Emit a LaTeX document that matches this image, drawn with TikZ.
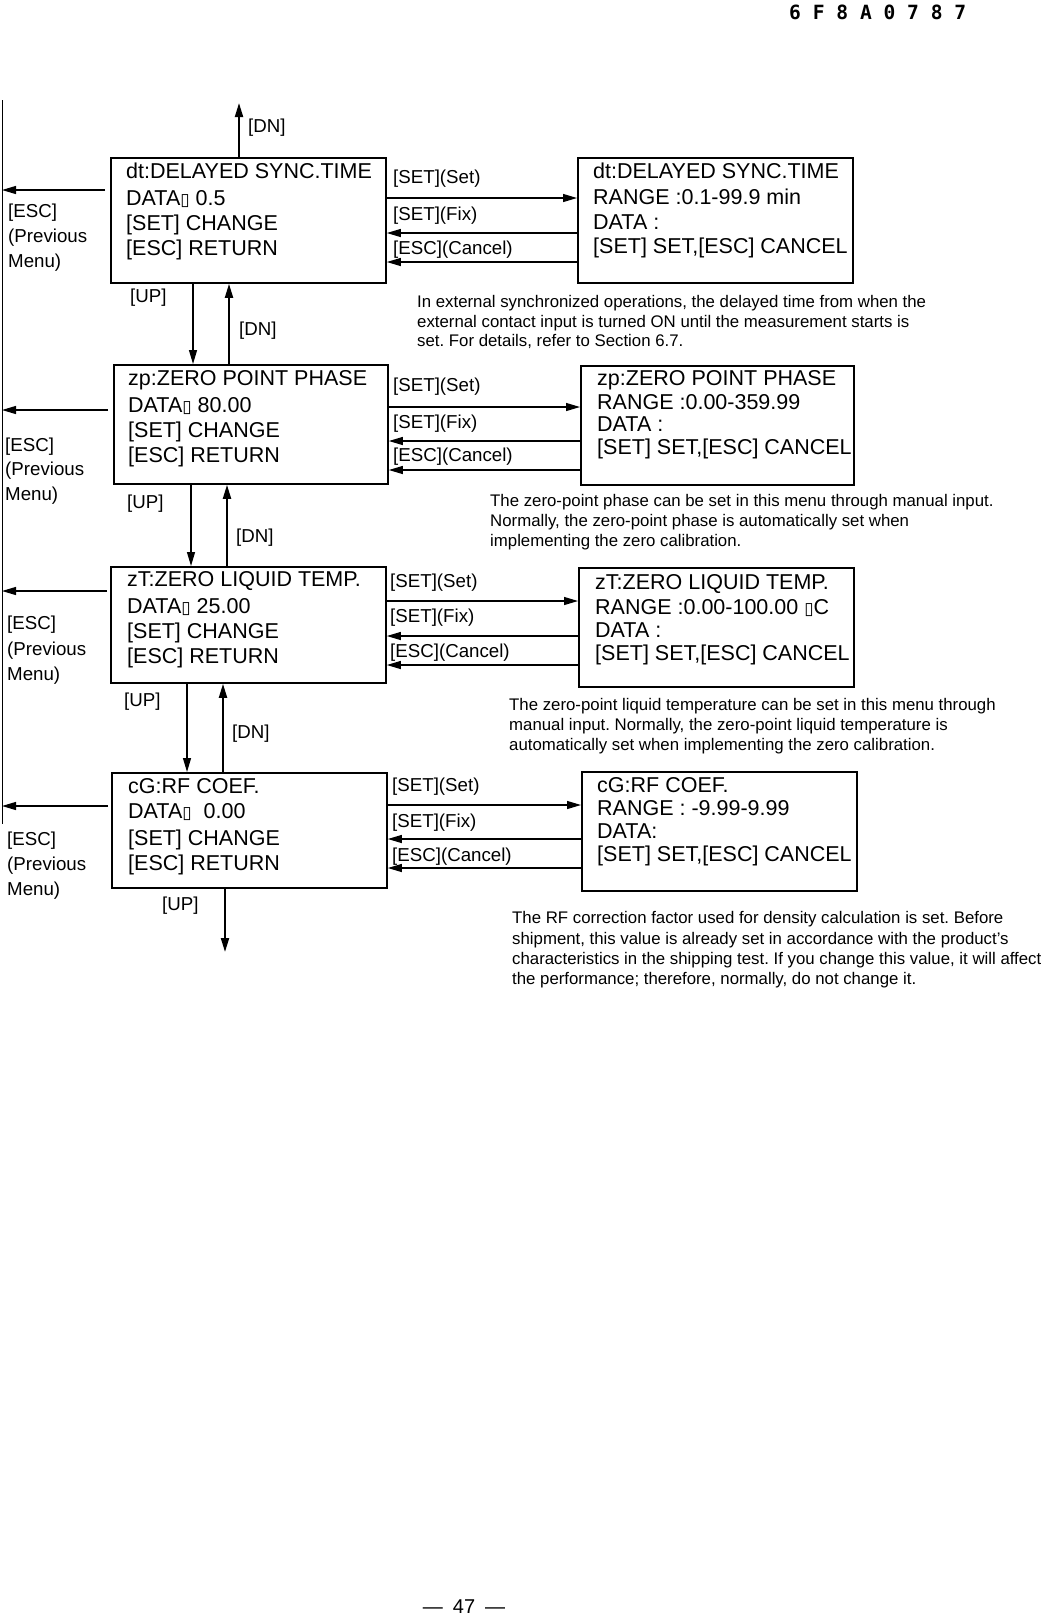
\documentclass[tikz,border=0pt]{standalone}
\usepackage{fontspec}
\setmainfont{Liberation Sans}
\newfontfamily\djv{DejaVu Sans}
\newfontfamily\hdrmono{DejaVu Sans Mono}
\usetikzlibrary{arrows.meta}
\newcommand\tofu{{\djv\fontsize{17}{17}\selectfont ▯}}
\newcommand\txtlines[4]{%
  \foreach \yy/\ttext [count=\i] in {#4}{\node[#2, anchor=base west] (#1\i) at (#3,\yy) {\ttext};}}
\begin{document}
\frenchspacing
\begin{tikzpicture}[x=1pt,y=-1pt,
  box/.style={draw, line width=1.8pt, anchor=north west, inner sep=0pt},
  boxt/.style={font=\fontsize{21.5}{25}\selectfont, inner sep=0pt},
  lab/.style={font=\fontsize{18.7}{22}\selectfont, inner sep=0pt},
  note/.style={font=\fontsize{16.8}{20}\selectfont\frenchspacing, inner sep=0pt},
  arr/.style={-{Triangle[length=14pt,width=8pt]}, line width=1.2pt},
  arrdn/.style={arr, line width=2pt}]
\useasboundingbox (0,0) rectangle (1041,1615);

% header and footer
\node[font=\hdrmono\bfseries\fontsize{19.6}{22}\selectfont, anchor=base west, inner sep=0pt] (hdr) at (789,19) {6 F 8 A 0 7 8 7};
\node[font=\fontsize{20}{22}\selectfont, anchor=base, inner sep=0pt] (ftr) at (464,1613) {—\enspace 47\enspace —};

% boxes
\node[box, minimum width=275pt, minimum height=125pt] (b1l) at (110,157) {};
\node[box, minimum width=275pt, minimum height=125pt] (b1r) at (577,157) {};
\node[box, minimum width=274pt, minimum height=119pt] (b2l) at (113,364) {};
\node[box, minimum width=273pt, minimum height=119pt] (b2r) at (580,365) {};
\node[box, minimum width=275pt, minimum height=116pt] (b3l) at (110,566) {};
\node[box, minimum width=275pt, minimum height=119pt] (b3r) at (578,567) {};
\node[box, minimum width=275pt, minimum height=115pt] (b4l) at (111,772) {};
\node[box, minimum width=275pt, minimum height=119pt] (b4r) at (581,771) {};

% box texts
\txtlines{t1l}{boxt}{126}{178/{dt:DELAYED SYNC.TIME}, 205/{DATA\tofu\ 0.5}, 230/{[SET] CHANGE}, 255/{[ESC] RETURN}}
\txtlines{t1r}{boxt}{593}{178/{dt:DELAYED SYNC.TIME}, 204/{RANGE :0.1-99.9 min}, 229/{DATA :}, 253/{[SET] SET,[ESC] CANCEL}}
\txtlines{t2l}{boxt}{128}{385/{zp:ZERO POINT PHASE}, 412/{DATA\tofu\ 80.00}, 437/{[SET] CHANGE}, 462/{[ESC] RETURN}}
\txtlines{t2r}{boxt}{597}{385/{zp:ZERO POINT PHASE}, 409/{RANGE :0.00-359.99}, 431/{DATA :}, 454/{[SET] SET,[ESC] CANCEL}}
\txtlines{t3l}{boxt}{127}{586/{zT:ZERO LIQUID TEMP.}, 613/{DATA\tofu\ 25.00}, 638/{[SET] CHANGE}, 663/{[ESC] RETURN}}
\txtlines{t3r}{boxt}{595}{589/{zT:ZERO LIQUID TEMP.}, 614/{RANGE :0.00-100.00 \tofu C}, 637/{DATA :}, 660/{[SET] SET,[ESC] CANCEL}}
\txtlines{t4l}{boxt}{128}{793/{cG:RF COEF.}, 818/{DATA\tofu\ \ 0.00}, 845/{[SET] CHANGE}, 870/{[ESC] RETURN}}
\txtlines{t4r}{boxt}{597}{792/{cG:RF COEF.}, 815/{RANGE : -9.99-9.99}, 838/{DATA:}, 861/{[SET] SET,[ESC] CANCEL}}

% horizontal arrows
\draw[arr] (b1l.east |- 0,198) -- (b1r.west |- 0,198);
\draw[arr] (b1r.west |- 0,233) -- (b1l.east |- 0,233);
\draw[arr] (b1r.west |- 0,262) -- (b1l.east |- 0,262);
\draw[arr] (b2l.east |- 0,407) -- (b2r.west |- 0,407);
\draw[arr] (b2r.west |- 0,441) -- (b2l.east |- 0,441);
\draw[arr] (b2r.west |- 0,470) -- (b2l.east |- 0,470);
\draw[arr] (b3l.east |- 0,601) -- (b3r.west |- 0,601);
\draw[arr] (b3r.west |- 0,636) -- (b3l.east |- 0,636);
\draw[arr] (b3r.west |- 0,665) -- (b3l.east |- 0,665);
\draw[arr] (b4l.east |- 0,805) -- (b4r.west |- 0,805);
\draw[arr] (b4r.west |- 0,839) -- (b4l.east |- 0,839);
\draw[arr] (b4r.west |- 0,868) -- (b4l.east |- 0,868);

% labels of horizontal arrows
\txtlines{s1}{lab}{393}{183/{[SET](Set)}, 220/{[SET](Fix)}, 254/{[ESC](Cancel)}}
\txtlines{s2}{lab}{393}{391/{[SET](Set)}, 428/{[SET](Fix)}, 461/{[ESC](Cancel)}}
\txtlines{s3}{lab}{390}{587/{[SET](Set)}, 622/{[SET](Fix)}, 657/{[ESC](Cancel)}}
\txtlines{s4}{lab}{392}{791/{[SET](Set)}, 827/{[SET](Fix)}, 861/{[ESC](Cancel)}}

% left return line and ESC arrows
\coordinate (lt) at (2,100);
\coordinate (lb) at (2,824);
\draw[line width=1pt] (lt) -- (lb);
\draw[arr, shorten <=5pt] (b1l.west |- 0,190) -- (lt |- 0,190);
\draw[arr, shorten <=5pt] (b2l.west |- 0,410) -- (lt |- 0,410);
\draw[arr, shorten <=3pt] (b3l.west |- 0,591) -- (lt |- 0,591);
\draw[arr, shorten <=3pt] (b4l.west |- 0,806) -- (lt |- 0,806);
\txtlines{e1}{lab}{8}{217/{[ESC]}, 242/{(Previous}, 267/{Menu)}}
\txtlines{e2}{lab}{5}{451/{[ESC]}, 475/{(Previous}, 500/{Menu)}}
\txtlines{e3}{lab}{7}{629/{[ESC]}, 655/{(Previous}, 680/{Menu)}}
\txtlines{e4}{lab}{7}{845/{[ESC]}, 870/{(Previous}, 895/{Menu)}}

% vertical arrows
\coordinate (dntop) at (239,103);
\draw[arrdn] (b1l.north -| 239,0) -- (dntop);
\draw[arr] (b1l.south -| 193,0) -- (b2l.north -| 193,0);
\draw[arrdn] (b2l.north -| 229,0) -- (b1l.south -| 229,0);
\draw[arr] (b2l.south -| 191,0) -- (b3l.north -| 191,0);
\draw[arrdn] (b3l.north -| 227,0) -- (b2l.south -| 227,0);
\draw[arr] (b3l.south -| 187,0) -- (b4l.north -| 187,0);
\draw[arrdn] (b4l.north -| 223,0) -- (b3l.south -| 223,0);
\coordinate (upbot) at (225,952);
\draw[arrdn] (b4l.south -| 225,0) -- (upbot);

\node[lab, anchor=base west] (dn0) at (248,132) {[DN]};
\node[lab, anchor=base west] (up1) at (130,302) {[UP]};
\node[lab, anchor=base west] (dn1) at (239,335) {[DN]};
\node[lab, anchor=base west] (up2) at (127,508) {[UP]};
\node[lab, anchor=base west] (dn2) at (236,542) {[DN]};
\node[lab, anchor=base west] (up3) at (124,706) {[UP]};
\node[lab, anchor=base west] (dn3) at (232,738) {[DN]};
\node[lab, anchor=base west] (up4) at (162,910) {[UP]};

% notes
\txtlines{n1}{note}{417}{307.5/{In external synchronized operations, the delayed time from when the}, 327/{external contact input is turned ON until the measurement starts is}, 346.5/{set. For details, refer to Section 6.7.}}
\txtlines{n2}{note}{490}{506/{The zero-point phase can be set in this menu through manual input.}, 526/{Normally, the zero-point phase is automatically set when}, 546/{implementing the zero calibration.}}
\txtlines{n3}{note}{509}{710/{The zero-point liquid temperature can be set in this menu through}, 730/{manual input. Normally, the zero-point liquid temperature is}, 750/{automatically set when implementing the zero calibration.}}
\txtlines{n4}{note}{512}{923/{The RF correction factor used for density calculation is set. Before}, 944/{shipment, this value is already set in accordance with the product's}, 964/{characteristics in the shipping test. If you change this value, it will affect}, 984/{the performance; therefore, normally, do not change it.}}
\end{tikzpicture}
\end{document}
